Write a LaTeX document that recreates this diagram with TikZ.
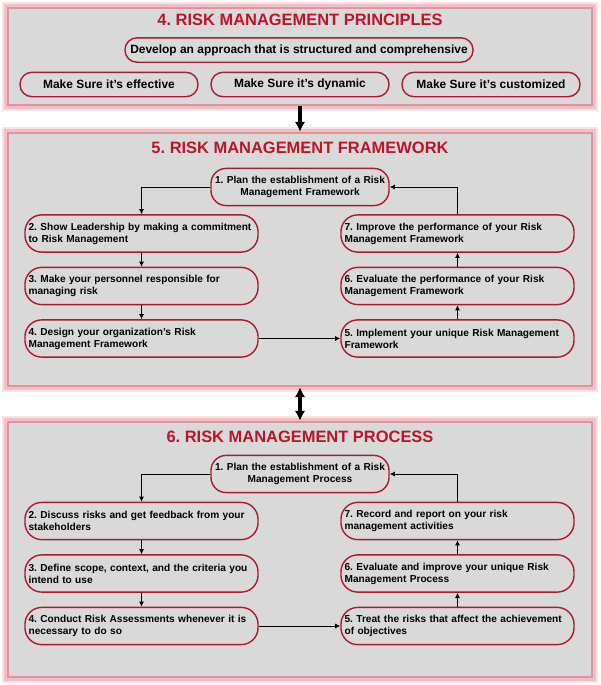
\documentclass[tikz,border=0pt]{standalone}
\usepackage{fontspec}
\setmainfont{Liberation Sans}
\usetikzlibrary{arrows.meta}
\frenchspacing

\definecolor{panelgrey}{RGB}{217,217,217}
\definecolor{boxred}{RGB}{176,24,48}
\definecolor{titlered}{RGB}{190,20,42}
\definecolor{glowout}{RGB}{249,226,229}
\definecolor{glowmid}{RGB}{240,192,198}
\definecolor{glowin}{RGB}{226,148,158}

\tikzset{
  panel/.style={fill=panelgrey, draw=glowin, line width=1.8pt,
    preaction={draw=glowout, line width=9pt},
    preaction={draw=glowmid, line width=5pt}, minimum width=14.6cm},
  paneltitle/.style={text=titlered, font=\fontsize{11.7}{14}\selectfont\bfseries},
  pill/.style={draw=boxred, fill=panelgrey, line width=1pt, rounded corners=0.3cm,
    minimum height=0.61cm, inner sep=0pt, font=\fontsize{8.5}{10}\selectfont\bfseries},
  stagebox/.style={draw=boxred, fill=panelgrey, line width=1pt, rounded corners=0.42cm,
    minimum height=0.93cm, text width=5.645cm, inner xsep=0.09cm, align=left,
    font=\fontsize{7.2}{8.5}\selectfont\bfseries},
  planbox/.style={stagebox, text width=4.39cm, inner xsep=0.03cm, align=center, rounded corners=0.38cm},
  flow/.style={-{Latex[length=3.6pt,width=3.6pt]}, line width=0.7pt},
  bigarrow/.style={-{Latex[length=7pt,width=7.5pt]}, line width=2.2pt},
  bigboth/.style={{Latex[length=7pt,width=7.5pt]}-{Latex[length=7pt,width=7.5pt]}, line width=2.2pt},
}

\begin{document}
\begin{tikzpicture}[x=0.025cm,y=-0.025cm]
        \useasboundingbox (0,0) rectangle (600,685);
        % panels
        \node[panel, minimum height=2.425cm] (principles) at (300,56.5) {};
        \node[panel, minimum height=6.325cm] (framework) at (300,259.5) {};
        \node[panel, minimum height=6.375cm] (process) at (300,549.5) {};
        \draw[bigarrow] (principles.south) -- (framework.north);
        \draw[bigboth] (framework.south) -- (process.north);

        % 4. principles
        \node[paneltitle] (ptitle) at (300,20) {4. RISK MANAGEMENT PRINCIPLES};
        \node[pill, minimum width=8.7cm] (develop) at (299,50) {Develop an approach that is structured and comprehensive};
        \node[pill, minimum width=4.45cm] (effective) at (109,84.5) {Make Sure it’s effective};
        \node[pill, minimum width=4.45cm] (dynamic) at (300,84.5) {Make Sure it’s dynamic};
        \node[pill, minimum width=4.45cm] (customized) at (491,84.5) {Make Sure it’s customized};

        % 5. framework
        \node[paneltitle] (ftitle) at (300,148) {5. RISK MANAGEMENT FRAMEWORK};
        \node[planbox] (f1) at (300,187) {1. Plan the establishment of a Risk\\Management Framework};
        \node[stagebox] (f2) at (141.5,233.5) {2. Show Leadership by making a commitment\\to Risk Management};
        \node[stagebox] (f3) at (141.5,286) {3. Make your personnel responsible for\\managing risk};
        \node[stagebox] (f4) at (141.5,338.5) {4. Design your organization’s Risk\\Management Framework};
        \node[stagebox] (f5) at (457.5,338.5) {5. Implement your unique Risk Management\\Framework};
        \node[stagebox] (f6) at (457.5,286) {6. Evaluate the performance of your Risk\\Management Framework};
        \node[stagebox] (f7) at (457.5,233.5) {7. Improve the performance of your Risk\\Management Framework};

        % 6. process
        \node[paneltitle] (rtitle) at (300,437) {6. RISK MANAGEMENT PROCESS};
        \node[planbox] (p1) at (300,474) {1. Plan the establishment of a Risk\\Management Process};
        \node[stagebox] (p2) at (141.5,521) {2. Discuss risks and get feedback from your\\stakeholders};
        \node[stagebox] (p3) at (141.5,573.5) {3. Define scope, context, and the criteria you\\intend to use};
        \node[stagebox] (p4) at (141.5,626) {4. Conduct Risk Assessments whenever it is\\necessary to do so};
        \node[stagebox] (p5) at (457.5,626) {5. Treat the risks that affect the achievement\\of objectives};
        \node[stagebox] (p6) at (457.5,573.5) {6. Evaluate and improve your unique Risk\\Management Process};
        \node[stagebox] (p7) at (457.5,521) {7. Record and report on your risk\\management activities};

        \foreach \s in {f,p} {
          \draw[flow] (\s1.west) -| (\s2.north);
          \draw[flow] (\s2) -- (\s3);
          \draw[flow] (\s3) -- (\s4);
          \draw[flow] (\s4) -- (\s5);
          \draw[flow] (\s5) -- (\s6);
          \draw[flow] (\s6) -- (\s7);
          \draw[flow] (\s7.north) |- (\s1.east);
        }
      \end{tikzpicture}
\end{document}
